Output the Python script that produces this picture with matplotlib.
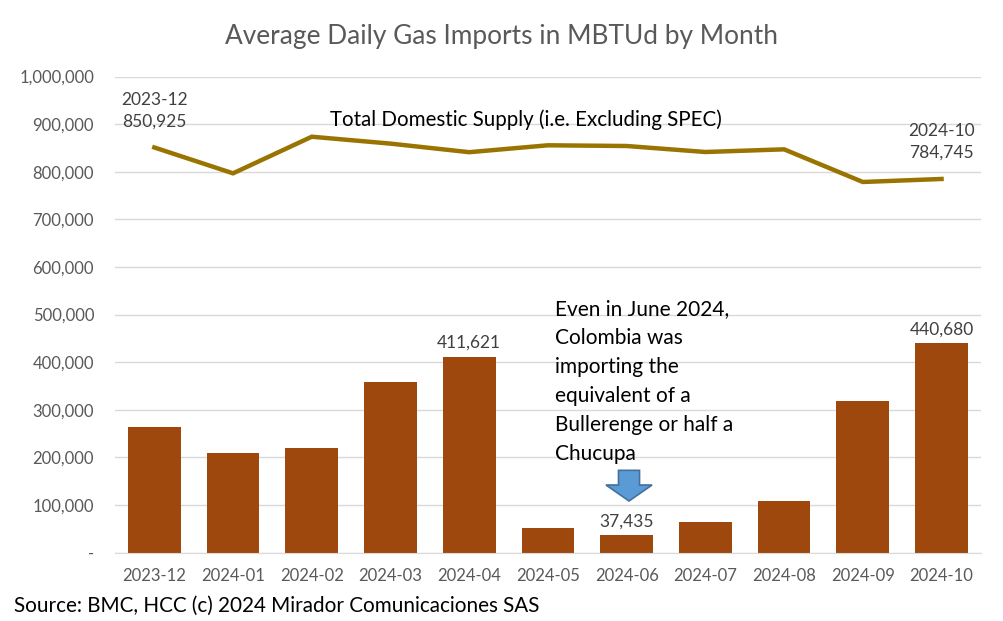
import numpy as np
import matplotlib
matplotlib.use("Agg")
import matplotlib.pyplot as plt
from matplotlib.patches import FancyArrow
from matplotlib.ticker import FuncFormatter

# DATA
months = ["2023-12", "2024-01", "2024-02", "2024-03", "2024-04", "2024-05",
          "2024-06", "2024-07", "2024-08", "2024-09", "2024-10"]
imports = [264300, 209700, 220200, 358000, 411621, 51500,
           37435, 64100, 108900, 318300, 440680]
domestic = [850925, 796600, 873500, 859000, 841000, 855500,
            854000, 841400, 847000, 778400, 784745]
yticks = np.arange(0, 1000001, 100000)

plt.rcParams['font.family'] = ['Lato', 'DejaVu Sans']

GRAY = "#595959"
BAR = "#9E480E"
LINE = "#9A7400"

fig = plt.figure(figsize=(10.04, 6.21), dpi=100)
ax = fig.add_axes([0.1145, 0.1103, 0.8625, 0.7665])

x = np.arange(len(months))
ax.bar(x, imports, width=0.67, color=BAR, zorder=2)
ax.plot(x, domestic, color=LINE, lw=3.2, zorder=3, solid_joinstyle='miter')

ax.set_xlim(-0.5, len(months) - 0.5)
ax.set_ylim(0, 1000000)
ax.set_yticks(yticks)
ax.yaxis.set_major_formatter(FuncFormatter(lambda v, p: "-" if v == 0 else f"{v:,.0f}"))
ax.set_xticks(x)
ax.set_xticklabels(months)
ax.tick_params(axis='both', length=0, labelsize=12, labelcolor=GRAY)
ax.tick_params(axis='y', pad=15)
ax.tick_params(axis='x', pad=11)
ax.grid(axis='y', color="#D9D9D9", lw=1.0, zorder=0)
ax.set_axisbelow(True)
for s in ["top", "right", "left"]:
    ax.spines[s].set_visible(False)
ax.spines["bottom"].set_color("#D9D9D9")

# data labels
ax.annotate(f"{months[0]}\n{domestic[0]:,}", (x[0], domestic[0]), xytext=(0, 13),
            textcoords="offset points", ha="center", va="bottom", fontsize=12.5,
            color="#404040", linespacing=1.45)
ax.annotate(f"{months[-1]}\n{domestic[-1]:,}", (x[-1], domestic[-1]), xytext=(0, 13),
            textcoords="offset points", ha="center", va="bottom", fontsize=12.5,
            color="#404040", linespacing=1.45)
for i in [4, 6, 10]:
    ax.annotate(f"{imports[i]:,}", (x[i], imports[i]), xytext=(0, 4),
                textcoords="offset points", ha="center", va="bottom",
                fontsize=12.5, color="#404040")

ax.text(2.23, 908600, "Total Domestic Supply (i.e. Excluding SPEC)", fontsize=14.8,
        color="black", ha="left", va="center")
ax.text(5.09, 531500, "Even in June 2024,\nColombia was\nimporting the\nequivalent of a\n"
        "Bullerenge or half a\nChucupa", fontsize=15, color="black", ha="left",
        va="top", linespacing=1.56)

arrow = FancyArrow(6.03, 172600, 0, -64400, width=0.267, head_width=0.585,
                   head_length=33600, length_includes_head=True,
                   facecolor="#5B9BD5", edgecolor="#41719C", lw=1.2, zorder=4)
ax.add_patch(arrow)

fig.text(0.5, 0.942, "Average Daily Gas Imports in MBTUd by Month", ha="center",
         va="center", fontsize=18.9, color=GRAY)
fig.text(0.014, 0.025, "Source: BMC, HCC (c) 2024 Mirador Comunicaciones SAS",
         ha="left", va="center", fontsize=14.9, color="black")

fig.savefig("out.png", dpi=100)
